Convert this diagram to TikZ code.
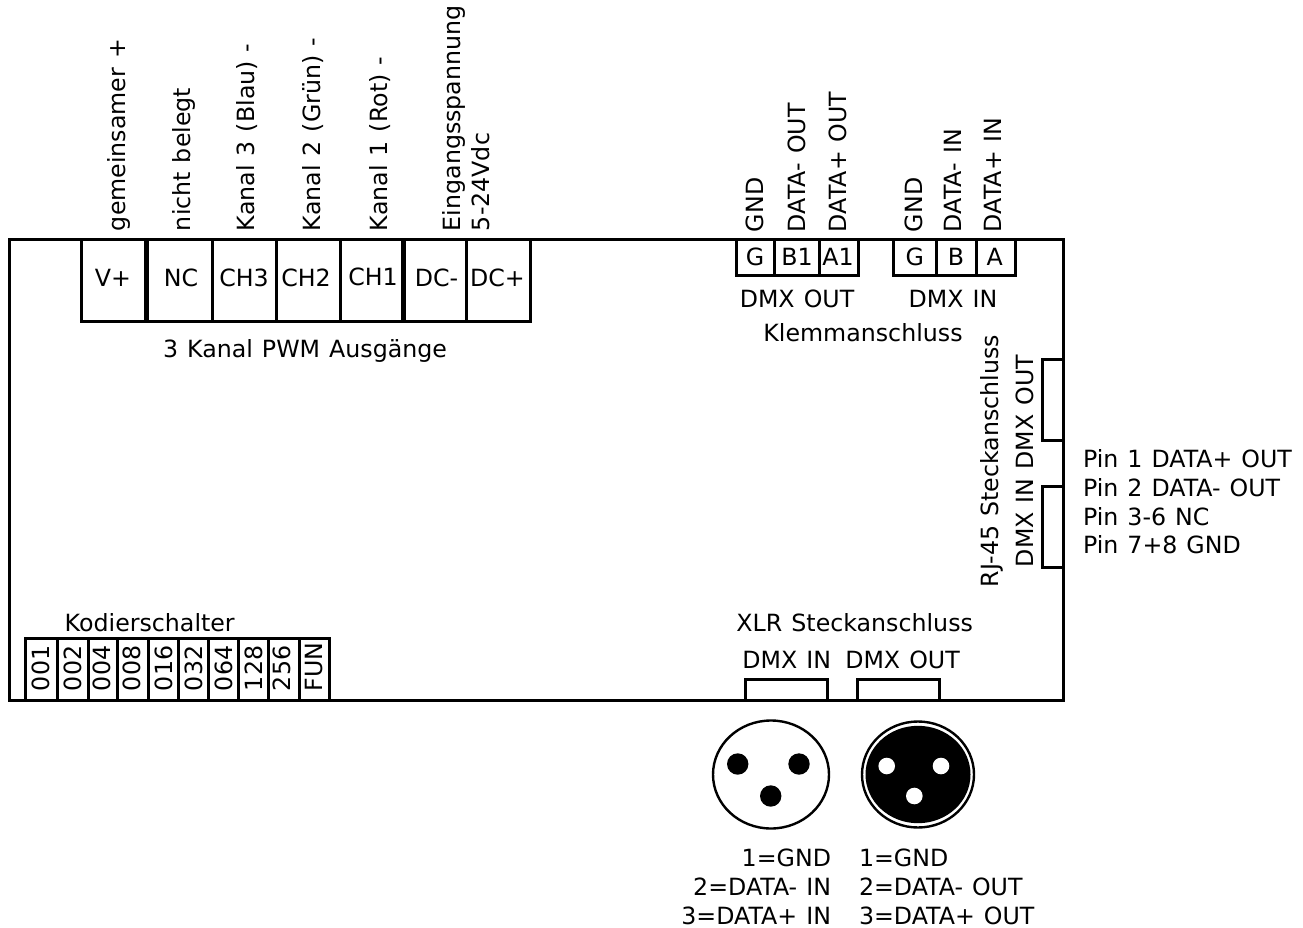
\documentclass[tikz,border=0pt]{standalone}
\usepackage{fontspec}
\setmainfont[WordSpace=1.2]{DejaVu Sans}
\tikzset{
  lbl/.style={inner sep=0pt,outer sep=0pt,font=\fontsize{23.7}{29}\selectfont,anchor=base},
  lblw/.style={lbl,anchor=base west},
  lble/.style={lbl,anchor=base east},
  vlbl/.style={lbl,rotate=90,anchor=base west},
  box/.style={draw=black,line width=3pt,fill=white},
  pinB/.style={fill=black,draw=none},
  pinW/.style={fill=white,draw=none},
}
\begin{document}
\begin{tikzpicture}[x=1pt,y=-1pt]
\useasboundingbox (0,0) rectangle (1303,928);
% housing
\draw[box] (9,239) rectangle (1063,700);
% PWM terminals
\draw[box] (81,239) rectangle (145,321);
\draw[box] (147,239) rectangle (212,321);
\draw[box] (212,239) rectangle (276,321);
\draw[box] (276,239) rectangle (340,321);
\draw[box] (340,239) rectangle (402,321);
\draw[box] (404,239) rectangle (466,321);
\draw[box] (466,239) rectangle (530,321);
\node[lbl] (tv) at (113,286) {V+};
\node[lbl] (tnc) at (181,286) {NC};
\node[lbl] (tc3) at (244,286) {CH3};
\node[lbl] (tc2) at (306,286) {CH2};
\node[lbl] (tc1) at (373,285) {CH1};
\node[lbl] (tdm) at (436.5,286) {DC-};
\node[lbl] (tdp) at (497.5,286) {DC+};
\node[vlbl] (l1) at (125,231) {gemeinsamer +};
\node[vlbl] (l2) at (190,231) {nicht belegt};
\node[vlbl] (l3) at (254.5,231) {Kanal 3 (Blau) -};
\node[vlbl] (l4) at (320,231) {Kanal 2 (Grün) -};
\node[vlbl] (l5) at (387,231) {Kanal 1 (Rot) -};
\node[vlbl] (l6) at (460,231) {Eingangsspannung};
\node[vlbl] (l7) at (489.5,231) {5-24Vdc};
\node[lbl] (pwm) at (305,357) {3 Kanal PWM Ausgänge};
% DMX clamps
\draw[box] (736,239) rectangle (774,275);
\draw[box] (774,239) rectangle (819,275);
\draw[box] (819,239) rectangle (858,275);
\draw[box] (893,239) rectangle (936,275);
\draw[box] (936,239) rectangle (976,275);
\draw[box] (976,239) rectangle (1015,275);
\node[lbl] (g1) at (755,265) {G};
\node[lbl] (b1) at (797,265) {B1};
\node[lbl] (a1) at (838,265) {A1};
\node[lbl] (g2) at (914.7,265) {G};
\node[lbl] (b2) at (956,265) {B};
\node[lbl] (a2) at (994.7,265) {A};
\node[vlbl] (d1) at (763,232) {GND};
\node[vlbl] (d2) at (805,232) {DATA- OUT};
\node[vlbl] (d3) at (846.7,232) {DATA+ OUT};
\node[vlbl] (d4) at (922.7,232) {GND};
\node[vlbl] (d5) at (961.7,232) {DATA- IN};
\node[vlbl] (d6) at (1001.7,232) {DATA+ IN};
\node[lbl] (dout) at (797,307) {DMX OUT};
\node[lbl] (din) at (953,307) {DMX IN};
\node[lbl] (klemm) at (863,341) {Klemmanschluss};
% RJ-45
\draw[box] (1042,359) rectangle (1063,440);
\draw[box] (1042,486) rectangle (1063,567);
\node[vlbl] (rj) at (998.3,587) {RJ-45 Steckanschluss};
\node[vlbl] (rjd) at (1033,567) {DMX IN DMX OUT};
\node[lblw] (p1) at (1083,467) {Pin 1 DATA+ OUT};
\node[lblw] (p2) at (1083,496) {Pin 2 DATA- OUT};
\node[lblw] (p3) at (1083,525) {Pin 3-6 NC};
\node[lblw] (p4) at (1083,553) {Pin 7+8 GND};
% code switches
\node[lbl] (kod) at (149.7,631) {Kodierschalter};
\draw[box] (25,638) rectangle (57,700);
\draw[box] (57,638) rectangle (88,700);
\draw[box] (88,638) rectangle (117,700);
\draw[box] (117,638) rectangle (148,700);
\draw[box] (148,638) rectangle (178,700);
\draw[box] (178,638) rectangle (208,700);
\draw[box] (208,638) rectangle (238,700);
\draw[box] (238,638) rectangle (268,700);
\draw[box] (268,638) rectangle (299,700);
\draw[box] (299,638) rectangle (329,700);
\node[vlbl] (s1) at (49,691) {001};
\node[vlbl] (s2) at (81,691) {002};
\node[vlbl] (s3) at (110,691) {004};
\node[vlbl] (s4) at (140,691) {008};
\node[vlbl] (s5) at (172,691) {016};
\node[vlbl] (s6) at (202,691) {032};
\node[vlbl] (s7) at (232,691) {064};
\node[vlbl] (s8) at (262,691) {128};
\node[vlbl] (s9) at (290,691) {256};
\node[vlbl] (s10) at (322,691) {FUN};
% XLR
\node[lbl] (xlr) at (854.7,631) {XLR Steckanschluss};
\node[lbl] (xin) at (786.7,668) {DMX IN};
\node[lbl] (xout) at (902.5,668) {DMX OUT};
\draw[box] (745,679) rectangle (827,700);
\draw[box] (857,679) rectangle (939,700);
\draw[draw=black,line width=2.4pt,fill=white] (771,774.5) ellipse [x radius=58,y radius=54];
\fill[pinB] (737.7,764) circle (10.7);
\fill[pinB] (799,764) circle (10.7);
\fill[pinB] (770.7,796) circle (10.7);
\draw[draw=black,line width=2.4pt,fill=white] (918,774.5) ellipse [x radius=56,y radius=53];
\fill[black] (918,774.5) ellipse [x radius=52.5,y radius=48.7];
\fill[pinW] (886.7,766) circle (8.3);
\fill[pinW] (941,766) circle (8.3);
\fill[pinW] (914.3,796) circle (8.3);
\node[lble] (i1) at (831,866) {1=GND};
\node[lble] (i2) at (831,895) {2=DATA- IN};
\node[lble] (i3) at (831,924) {3=DATA+ IN};
\node[lblw] (o1) at (859,866) {1=GND};
\node[lblw] (o2) at (859,895) {2=DATA- OUT};
\node[lblw] (o3) at (859,924) {3=DATA+ OUT};
\end{tikzpicture}
\end{document}
